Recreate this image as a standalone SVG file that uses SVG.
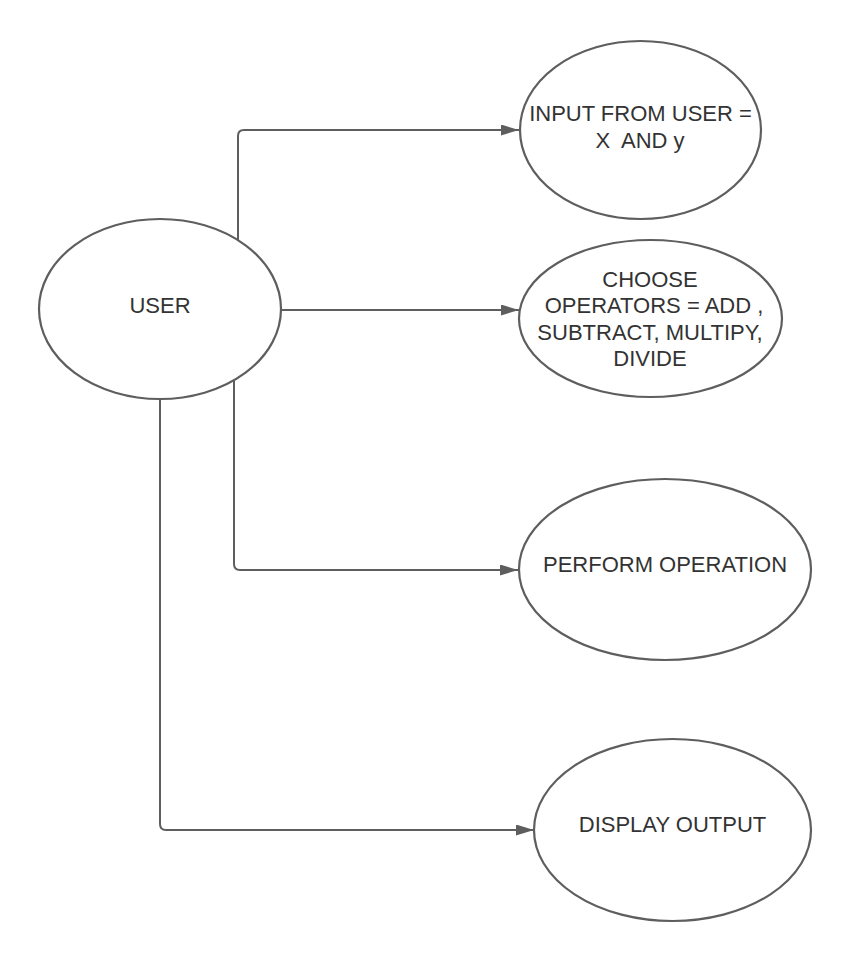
<svg xmlns="http://www.w3.org/2000/svg" width="850" height="960" viewBox="0 0 850 960">
<style>
.node{fill:#ffffff;stroke:#5e5e5e;stroke-width:2.2}
.conn{fill:none;stroke:#5e5e5e;stroke-width:2}
.lbl{font-family:"Liberation Sans",Arial,sans-serif;font-size:22px;fill:#333333;text-anchor:middle;white-space:pre}
</style>
<defs>
<marker id="arrow" markerUnits="userSpaceOnUse" markerWidth="18" markerHeight="11" refX="18" refY="5.5" orient="auto">
<path d="M0,0 L18,5.5 L0,11 Z" fill="#5e5e5e"/>
</marker>
</defs>
<rect width="850" height="960" fill="#ffffff"/>
<g id="connectors">
<path class="conn" d="M238,240 L238,136 Q238,130 244,130 L519,130" marker-end="url(#arrow)"/>
<path class="conn" d="M281,310 L519,310" marker-end="url(#arrow)"/>
<path class="conn" d="M234,381 L234,564 Q234,570 240,570 L518,570" marker-end="url(#arrow)"/>
<path class="conn" d="M160,399 L160,824 Q160,830 166,830 L534,830" marker-end="url(#arrow)"/>
</g>
<g id="user">
<ellipse class="node" cx="160" cy="309" rx="121" ry="90"/>
<text class="lbl" x="160" y="313">USER</text>
</g>
<g id="input">
<ellipse class="node" cx="640.5" cy="130" rx="120.5" ry="89"/>
<text class="lbl" x="640.5" y="121">INPUT FROM USER =</text>
<text class="lbl" x="640" y="148" xml:space="preserve">X  AND y</text>
</g>
<g id="choose">
<ellipse class="node" cx="650.5" cy="318.5" rx="131.5" ry="78.5"/>
<text class="lbl" x="650" y="287">CHOOSE</text>
<text class="lbl" x="654" y="313">OPERATORS = ADD ,</text>
<text class="lbl" x="650" y="340">SUBTRACT, MULTIPY,</text>
<text class="lbl" x="650" y="366">DIVIDE</text>
</g>
<g id="perform">
<ellipse class="node" cx="665" cy="569.5" rx="146" ry="90.5"/>
<text class="lbl" x="665" y="572">PERFORM OPERATION</text>
</g>
<g id="display">
<ellipse class="node" cx="672.5" cy="830" rx="138.5" ry="91"/>
<text class="lbl" x="672.5" y="832">DISPLAY OUTPUT</text>
</g>
</svg>
